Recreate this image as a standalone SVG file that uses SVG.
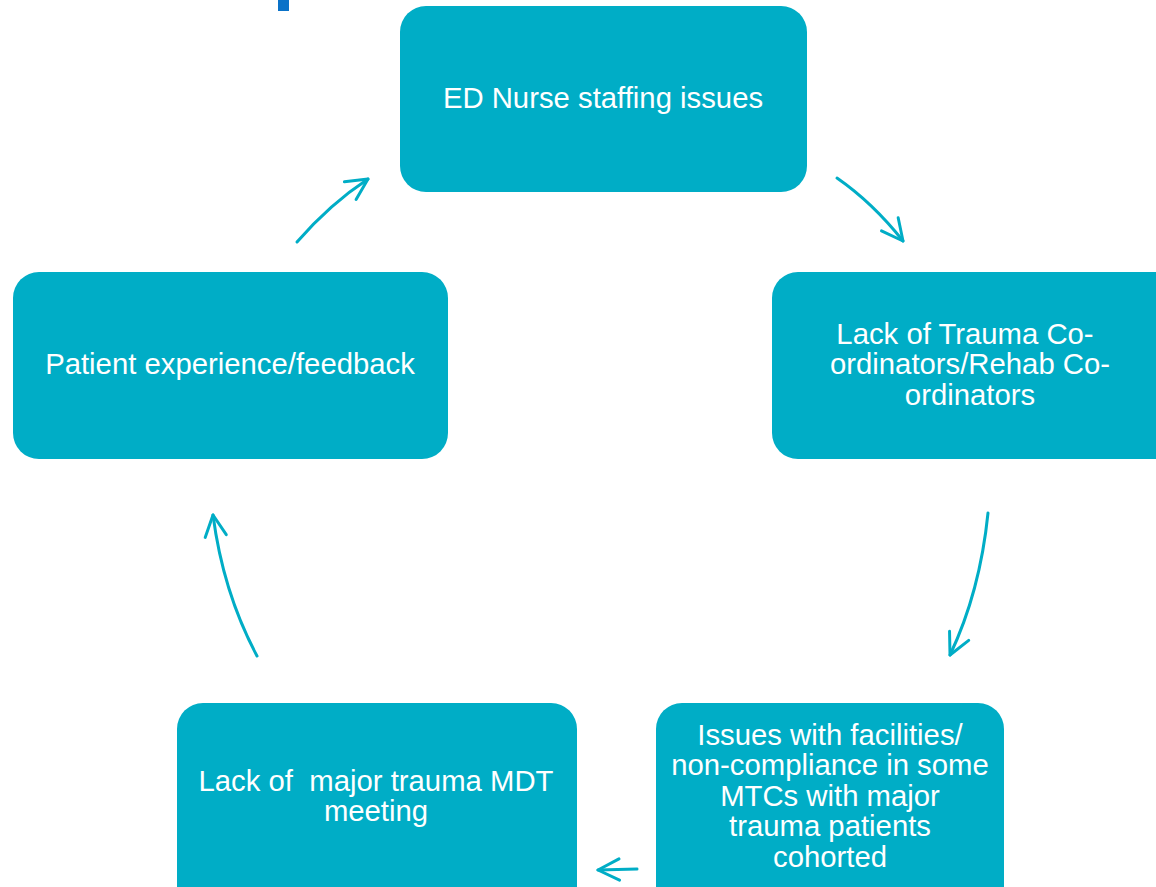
<svg xmlns="http://www.w3.org/2000/svg" width="1156" height="887" viewBox="0 0 1156 887">
<style>
.box{fill:#00ADC6;}
.t{font-family:"Liberation Sans",Arial,sans-serif;font-size:29.3px;fill:#fff;text-anchor:middle;white-space:pre;}
.c{fill:none;stroke:#00ADC6;stroke-width:3;stroke-linecap:round;}
</style>
<defs>
<marker id="ah" viewBox="0 0 12 12" refX="11" refY="6" markerWidth="8.5" markerHeight="8.5" markerUnits="strokeWidth" orient="auto">
<path d="M1,1 L11,6 L1,11" fill="none" stroke="#00ADC6" stroke-width="1.4" stroke-linecap="round" stroke-linejoin="round"/>
</marker>
</defs>
<rect x="278" y="0" width="11" height="11" fill="#0A72C8"/>
<g id="connectors">
<path class="c" d="M297,242 Q330,204 368,179" marker-end="url(#ah)"/>
<path class="c" d="M837,178 Q873,203 903,241" marker-end="url(#ah)"/>
<path class="c" d="M988,513 Q980,592 950,655" marker-end="url(#ah)"/>
<path class="c" d="M637,869 L598,870" marker-end="url(#ah)"/>
<path class="c" d="M257,656 Q223,592 213,515" marker-end="url(#ah)"/>
</g>
<g id="n1"><rect class="box" x="400" y="6" width="407" height="186" rx="26"/><text class="t" x="603" y="108">ED Nurse staffing issues</text></g>
<g id="n2"><rect class="box" x="772" y="272" width="420" height="187" rx="26"/><text class="t" x="965" y="344">Lack of Trauma Co-</text><text class="t" x="970" y="374">ordinators/Rehab Co-</text><text class="t" x="970" y="405">ordinators</text></g>
<g id="n3"><rect class="box" x="656" y="703" width="348" height="210" rx="26"/><text class="t" x="830" y="745">Issues with facilities/</text><text class="t" x="830" y="775">non-compliance in some</text><text class="t" x="830" y="806">MTCs with major</text><text class="t" x="830" y="836">trauma patients</text><text class="t" x="830" y="867">cohorted</text></g>
<g id="n4"><rect class="box" x="177" y="703" width="400" height="210" rx="26"/><text class="t" x="376" y="791">Lack of  major trauma MDT</text><text class="t" x="376" y="821">meeting</text></g>
<g id="n5"><rect class="box" x="13" y="272" width="435" height="187" rx="26"/><text class="t" x="230" y="374">Patient experience/feedback</text></g>
</svg>
